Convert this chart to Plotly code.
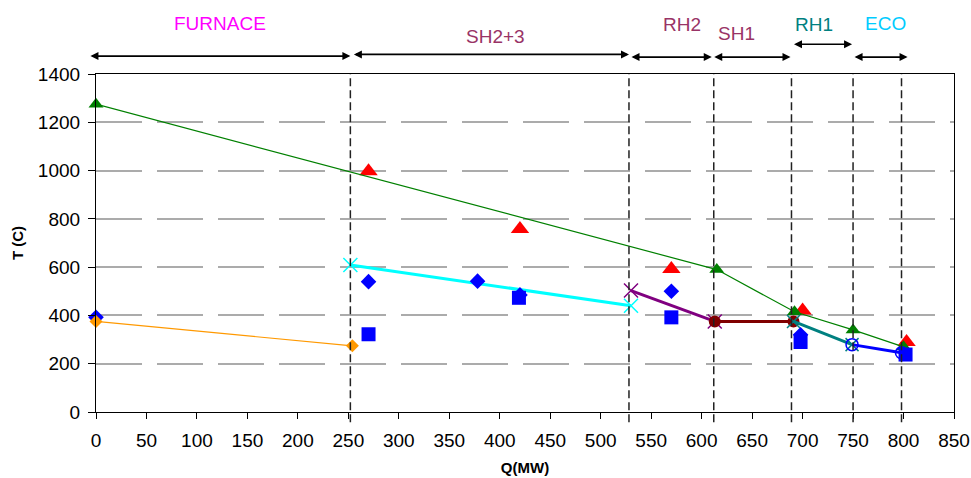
import plotly.graph_objects as go

# ---------------- data ----------------
# gas-side temperature profile (green line with triangles)
gas_q = [0, 615, 692, 750, 800]
gas_t = [1275, 590, 415, 340, 270]

# red triangles (measured gas temperatures)
red_q = [270, 420, 570, 700, 803]
red_t = [997, 758, 592, 420, 290]

# blue diamonds
dia_q = [0, 270, 378, 420, 570, 698]
dia_t = [392, 540, 542, 485, 500, 320]

# blue squares
sq_q = [270, 419, 570, 698, 802]
sq_t = [322, 473, 392, 290, 238]

# furnace water/steam (orange)
fur_q = [0, 254]
fur_t = [375, 274]

# SH2+3 steam (cyan)
sh23_q = [252, 530]
sh23_t = [609, 440]

# RH2 steam (purple)
rh2_q = [530, 613]
rh2_t = [503, 375]

# SH1 steam (dark red)
sh1_q = [613, 691]
sh1_t = [375, 375]

# RH1 steam (teal)
rh1_q = [691, 749]
rh1_t = [375, 279]

# ECO water (blue)
eco_q = [749, 798]
eco_t = [279, 245]

# section boundaries and names
bounds = [252, 528, 612, 689, 750, 798]
arrow_start = [-7, 254, 529, 611, 690, 750]
arrow_end = [252, 528, 610, 688, 749, 804]
sections = ["FURNACE", "SH2+3", "RH2", "SH1", "RH1", "ECO"]

x_ticks = list(range(0, 851, 50))
y_ticks = list(range(0, 1401, 200))

# ---------------- style ----------------
FONT = "Liberation Sans, Arial, sans-serif"
sec_colors = ["#FF00FF", "#993366", "#993366", "#993366", "#008080", "#00CCFF"]
# vertical positions above the plot area (paper units)
arrow_py = [1.053, 1.058, 1.050, 1.050, 1.088, 1.050]
label_x = [123, 396, 581, 635, 711, 782]
label_py = [1.148, 1.112, 1.145, 1.121, 1.145, 1.148]

fig = go.Figure()

fig.add_trace(go.Scatter(x=red_q, y=red_t, mode="markers",
                         marker=dict(symbol="triangle-up", size=16, color="#FF0000"),
                         cliponaxis=False, name="red"))
fig.add_trace(go.Scatter(x=gas_q, y=gas_t, mode="lines+markers",
                         line=dict(color="#008000", width=1.2),
                         marker=dict(symbol="triangle-up", size=13, color="#008000"),
                         cliponaxis=False, name="gas"))
fig.add_trace(go.Scatter(x=sh23_q, y=sh23_t, mode="lines+markers",
                         line=dict(color="#00FFFF", width=3),
                         marker=dict(symbol="x-thin-open", size=14,
                                     line=dict(color="#00FFFF", width=1.5)),
                         cliponaxis=False, name="SH2+3"))
fig.add_trace(go.Scatter(x=rh2_q, y=rh2_t, mode="lines+markers",
                         line=dict(color="#800080", width=3),
                         marker=dict(symbol="x-thin-open", size=14,
                                     line=dict(color="#800080", width=1.5)),
                         cliponaxis=False, name="RH2"))
fig.add_trace(go.Scatter(x=sh1_q, y=sh1_t, mode="lines+markers",
                         line=dict(color="#800000", width=3),
                         marker=dict(symbol="circle", size=12, color="#800000"),
                         cliponaxis=False, name="SH1"))
fig.add_trace(go.Scatter(x=rh1_q, y=rh1_t, mode="lines+markers",
                         line=dict(color="#008080", width=3),
                         marker=dict(symbol="x-thin-open", size=13,
                                     line=dict(color="#008080", width=1.5)),
                         cliponaxis=False, name="RH1"))
fig.add_trace(go.Scatter(x=eco_q, y=eco_t, mode="lines+markers",
                         line=dict(color="#0000FF", width=3),
                         marker=dict(symbol="circle-open", size=12,
                                     line=dict(color="#0000FF", width=1.5)),
                         cliponaxis=False, name="ECO"))
fig.add_trace(go.Scatter(x=dia_q, y=dia_t, mode="markers",
                         marker=dict(symbol="diamond", size=12, color="#0000FF"),
                         cliponaxis=False, name="diamond"))
fig.add_trace(go.Scatter(x=sq_q, y=sq_t, mode="markers",
                         marker=dict(symbol="square", size=14, color="#0000FF"),
                         cliponaxis=False, name="square"))
fig.add_trace(go.Scatter(x=fur_q, y=fur_t, mode="lines+markers",
                         line=dict(color="#FF9900", width=1.2),
                         marker=dict(symbol="diamond", size=10, color="#FF9900"),
                         cliponaxis=False, name="furnace"))

# vertical dashed section boundaries
for b in bounds:
    fig.add_shape(type="line", xref="x", yref="paper", x0=b, x1=b, y0=-0.03, y1=1.0,
                  line=dict(color="#222222", width=1.5, dash="8px,4px"), layer="above")

# section arrows and labels
for name, c, xs, xe, ay, lx, ly in zip(sections, sec_colors, arrow_start, arrow_end,
                                        arrow_py, label_x, label_py):
    fig.add_annotation(x=xe, y=ay, ax=xs, ay=0, xref="x", yref="paper",
                       axref="x", ayref="pixel",
                       text="", showarrow=True, arrowhead=2, arrowside="end+start",
                       arrowsize=1, arrowwidth=1.6, arrowcolor="#000000")
    fig.add_annotation(x=lx, y=ly, xref="x", yref="paper", text=name, showarrow=False,
                       xanchor="center", yanchor="middle",
                       font=dict(family=FONT, size=19, color=c))

fig.update_layout(
    width=971, height=478,
    margin=dict(l=96, r=17, t=74, b=66, autoexpand=False),
    paper_bgcolor="white", plot_bgcolor="white",
    showlegend=False,
    font=dict(family=FONT, size=19, color="#000000"),
)
fig.update_xaxes(range=[0, 850], tickvals=x_ticks, showgrid=False, zeroline=False,
                 automargin=False,
                 showline=True, linecolor="#000000", linewidth=1.2, mirror=True,
                 ticks="outside", ticklen=6, tickcolor="#000000", tickwidth=1.2,
                 ticklabelstandoff=5,
                 title=dict(text="Q(MW)", font=dict(family=FONT, size=15, weight="bold"),
                            standoff=12))
fig.update_yaxes(range=[0, 1400], tickvals=y_ticks, showgrid=True, gridcolor="#ABABAB",
                 gridwidth=2, griddash="46px,15px", zeroline=False,
                 automargin=False,
                 showline=True, linecolor="#000000", linewidth=1.2, mirror=True,
                 ticks="outside", ticklen=7, tickcolor="#000000", tickwidth=1.2,
                 ticklabelstandoff=4,
                 title=dict(text="T (C)", font=dict(family=FONT, size=15, weight="bold"),
                            standoff=10))

# remove the default page margin so the figure fills the window exactly
fig.write_html("out.html", config={"displayModeBar": False},
               post_script="document.body.style.margin='0px';")
